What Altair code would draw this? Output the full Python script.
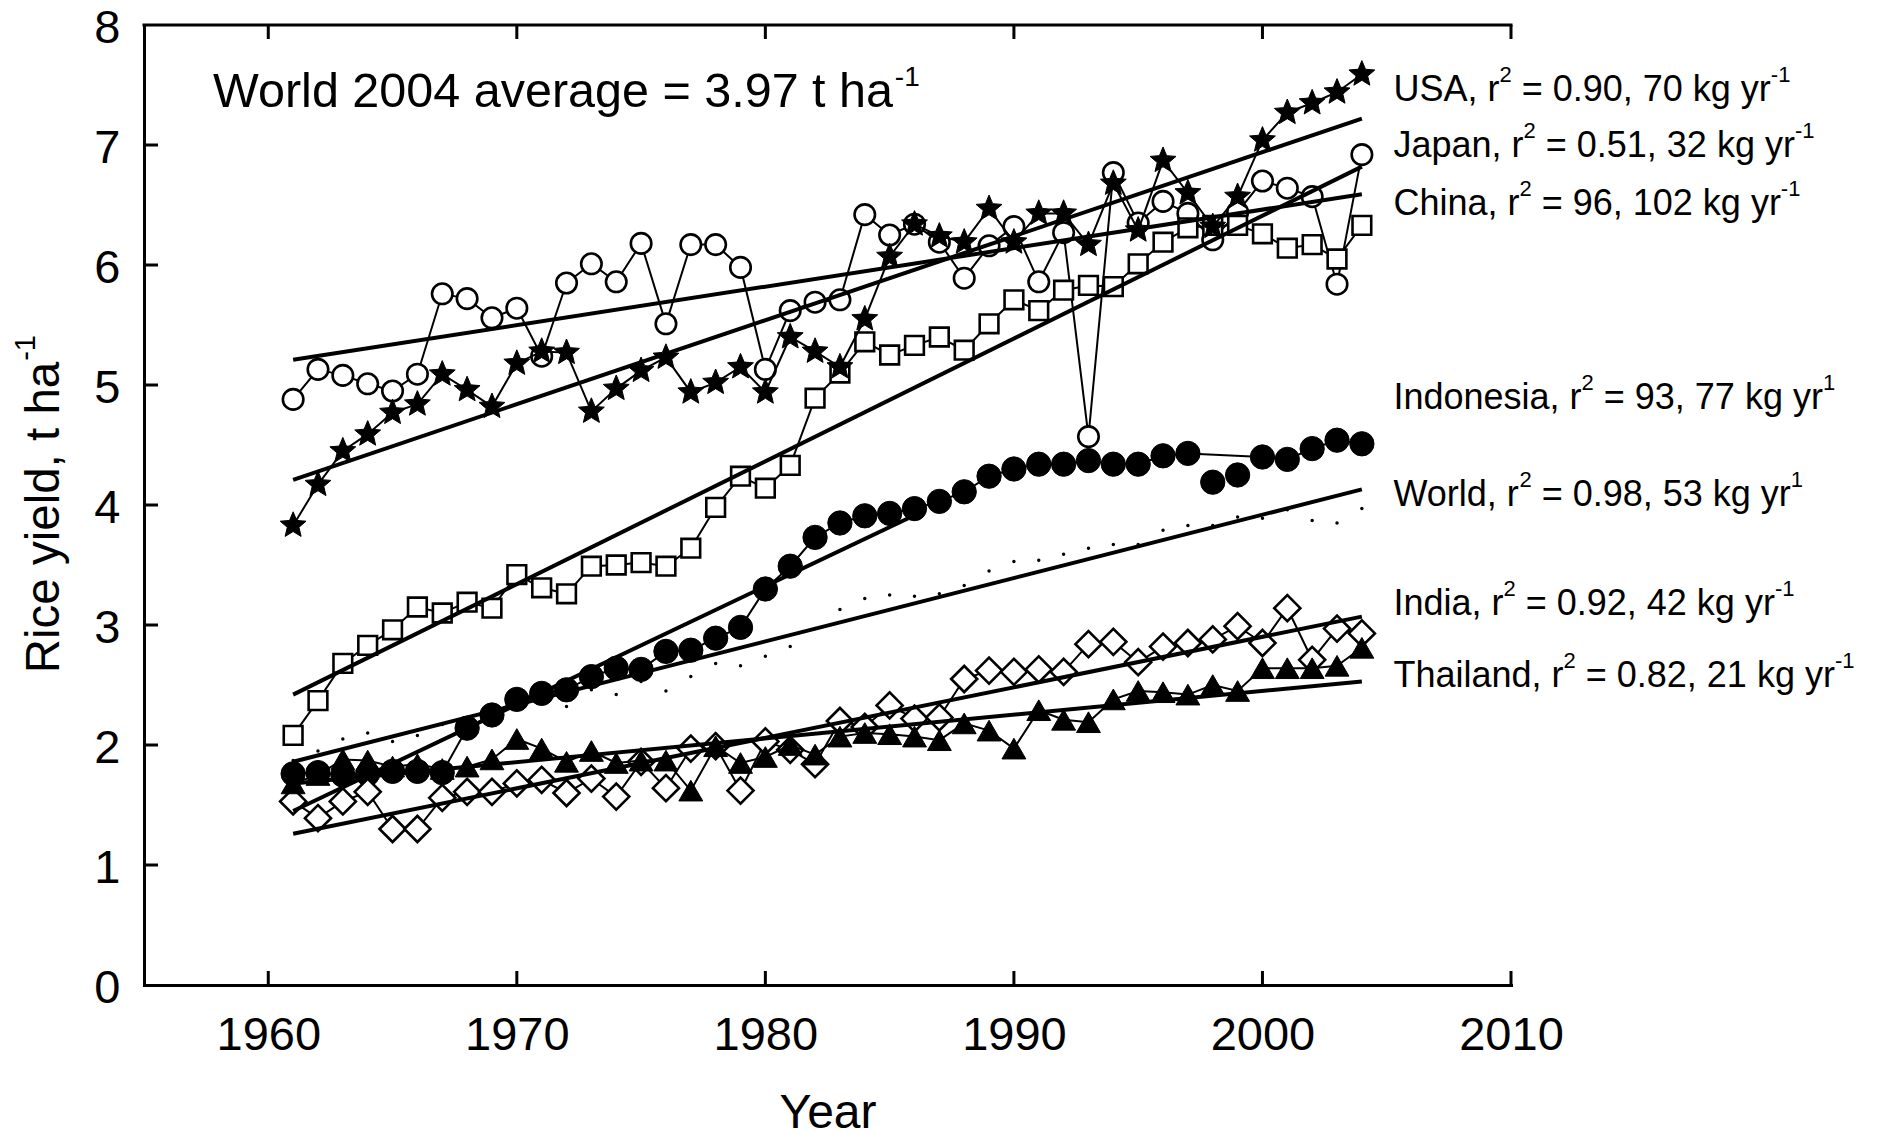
import math
import altair as alt
import pandas as pd

# ---------------- data ----------------
years = list(range(1961, 2005))

japan = [4.88, 5.13, 5.08, 5.01, 4.95, 5.09, 5.76, 5.72, 5.56, 5.64,
         5.24, 5.85, 6.01, 5.86, 6.18, 5.51, 6.17, 6.17, 5.98, 5.13,
         5.62, 5.69, 5.71, 6.42, 6.25, 6.34, 6.19, 5.89, 6.16, 6.32,
         5.86, 6.27, 4.57, 6.77, 6.35, 6.53, 6.43, 6.21, 6.44, 6.70,
         6.64, 6.57, 5.84, 6.92]
usa = [3.83, 4.17, 4.45, 4.59, 4.77, 4.84, 5.09, 4.96, 4.82, 5.18,
       5.28, 5.27, 4.78, 4.97, 5.12, 5.23, 4.94, 5.02, 5.15, 4.94,
       5.40, 5.28, 5.15, 5.55, 6.07, 6.34, 6.24, 6.19, 6.47, 6.19,
       6.43, 6.43, 6.17, 6.68, 6.29, 6.87, 6.60, 6.32, 6.57, 7.04,
       7.27, 7.35, 7.44, 7.59]
china = [2.08, 2.37, 2.68, 2.83, 2.96, 3.15, 3.10, 3.19, 3.14, 3.42,
         3.31, 3.26, 3.49, 3.50, 3.52, 3.49, 3.64, 3.98, 4.24, 4.14,
         4.33, 4.89, 5.10, 5.36, 5.25, 5.33, 5.40, 5.29, 5.51, 5.71,
         5.62, 5.79, 5.83, 5.82, 6.01, 6.19, 6.31, 6.33, 6.33, 6.26,
         6.14, 6.17, 6.05, 6.33]
indonesia = [1.76, 1.77, 1.75, 1.76, 1.78, 1.78, 1.77, 2.14, 2.25, 2.38,
             2.43, 2.46, 2.57, 2.64, 2.63, 2.78, 2.79, 2.89, 2.98, 3.30,
             3.49, 3.73, 3.85, 3.91, 3.93, 3.97, 4.03, 4.11, 4.24, 4.30,
             4.34, 4.34, 4.37, 4.34, 4.34, 4.41, 4.43, 4.19, 4.25, 4.40,
             4.38, 4.47, 4.54, 4.51]
indonesia_unlinked = [1998, 1999]
world = [1.87, 1.95, 2.05, 2.10, 2.03, 2.08, 2.17, 2.22, 2.26, 2.37,
         2.36, 2.32, 2.46, 2.42, 2.53, 2.45, 2.57, 2.68, 2.66, 2.74,
         2.82, 2.97, 3.13, 3.22, 3.25, 3.24, 3.26, 3.33, 3.45, 3.53,
         3.54, 3.59, 3.64, 3.67, 3.67, 3.79, 3.83, 3.83, 3.90, 3.89,
         3.96, 3.87, 3.85, 3.97]
india = [1.53, 1.39, 1.53, 1.61, 1.30, 1.30, 1.56, 1.61, 1.61, 1.68,
         1.71, 1.60, 1.72, 1.57, 1.86, 1.64, 1.97, 1.99, 1.62, 2.03,
         1.96, 1.84, 2.20, 2.15, 2.33, 2.22, 2.23, 2.55, 2.62, 2.61,
         2.63, 2.61, 2.84, 2.86, 2.69, 2.82, 2.85, 2.88, 2.99, 2.85,
         3.14, 2.71, 2.97, 2.93]
thailand = [1.68, 1.75, 1.88, 1.87, 1.82, 1.84, 1.80, 1.82, 1.88, 2.05,
            1.97, 1.86, 1.95, 1.85, 1.87, 1.87, 1.62, 1.99, 1.85, 1.90,
            2.00, 1.92, 2.07, 2.10, 2.09, 2.07, 2.04, 2.18, 2.12, 1.97,
            2.29, 2.21, 2.19, 2.38, 2.45, 2.44, 2.42, 2.50, 2.45, 2.64,
            2.64, 2.64, 2.66, 2.81]

# regression lines (end points)
trend_names = ["USA", "Japan", "China", "Indonesia", "World", "India", "Thailand"]
trend_year0 = [1961, 1961, 1961, 1961, 1961, 1961, 1961]
trend_year1 = [2004, 2004, 2004, 1985.75, 2004, 2004, 2004]
trend_val0 = [4.21, 5.21, 2.42, 1.45, 1.86, 1.26, 1.68]
trend_val1 = [7.22, 6.59, 6.82, 3.89, 4.13, 3.07, 2.53]

# series labels at the right
label_names = ["USA", "Japan", "China", "Indonesia", "World", "India", "Thailand"]
label_stats = ["= 0.90, 70 kg yr", "= 0.51, 32 kg yr", "= 96, 102 kg yr",
               "= 93, 77 kg yr", "= 0.98, 53 kg yr", "= 0.92, 42 kg yr",
               "= 0.82, 21 kg yr"]
label_exp = ["-1", "-1", "-1", "1", "1", "-1", "-1"]
label_values = [7.37, 6.90, 6.42, 4.80, 3.99, 3.08, 2.485]
label_year = 2005.27

world_note = "World 2004 average = 3.97 t ha"
world_note_exp = "-1"
world_note_year = 1957.78
world_note_value = 7.316

y_title = "Rice yield, t ha"
y_title_exp = "-1"
x_title = "Year"

x_ticks = [1960, 1970, 1980, 1990, 2000, 2010]
y_ticks = [0, 1, 2, 3, 4, 5, 6, 7, 8]

# ---------------- layout / style ----------------
FONT = "Liberation Sans"
W, H = 1367, 960
X0, X1 = 1955, 2010
PPY = W / (X1 - X0)

# Arial / Liberation Sans advance widths (1/1000 em)
AW = {" ": 278, ",": 278, ".": 278, "-": 333, "=": 584,
      "0": 556, "1": 556, "2": 556, "3": 556, "4": 556, "5": 556, "6": 556,
      "7": 556, "8": 556, "9": 556,
      "A": 667, "C": 722, "I": 278, "J": 500, "S": 667, "T": 611, "U": 722,
      "W": 944, "R": 722, "a": 556, "c": 500, "d": 556, "e": 556, "g": 556,
      "h": 556, "i": 222, "k": 500, "l": 222, "n": 556, "o": 556, "p": 556,
      "r": 333, "s": 500, "t": 278, "v": 500, "y": 500}


def tw(s, size):
    return sum(AW.get(c, 556) for c in s) * size / 1000.0


XS = alt.Scale(domain=[X0, X1], nice=False, zero=False)
YS = alt.Scale(domain=[0, 8], nice=False, zero=True)

XAX = alt.Axis(values=x_ticks, format="d", title=x_title, grid=False,
               ticks=False, tickSize=0, domain=True, domainColor="black",
               domainWidth=3, domainCap="square",
               labelFont=FONT, labelFontSize=47, labelColor="black",
               labelPadding=64, labelBaseline="alphabetic", labelFlush=False,
               labelOverlap=False, labelBound=False,
               titleFont=FONT, titleFontSize=48, titleFontWeight="normal",
               titleColor="black", titleBaseline="alphabetic",
               titleAlign="center", titleX=W / 2, titleY=142)
YAX = alt.Axis(values=y_ticks, format="d", title=None, grid=False,
               ticks=False, tickSize=0, domain=True, domainColor="black",
               domainWidth=3, domainCap="square",
               labelFont=FONT, labelFontSize=47, labelColor="black",
               labelPadding=24, labelBaseline="alphabetic", labelOffset=17.5,
               labelFlush=False, labelOverlap=False, labelBound=False)


def X(field="year"):
    return alt.X(f"{field}:Q", scale=XS, axis=XAX)


def Y(field="value"):
    return alt.Y(f"{field}:Q", scale=YS, axis=YAX)


def series_df(vals, skip=()):
    return pd.DataFrame({"year": [y for y in years if y not in skip],
                         "value": [v for y, v in zip(years, vals) if y not in skip]})


# star symbol path
pts = []
for k in range(10):
    ang = math.radians(-90 + 36 * k)
    r = 1.0 if k % 2 == 0 else 0.45
    pts.append((r * math.cos(ang), r * math.sin(ang)))
STAR = "M" + " L".join(f"{x:.3f},{y:.3f}" for x, y in pts) + " Z"

layers = []


def add_series(vals, shape, size, fill, sw, skip_line=()):
    layers.append(alt.Chart(series_df(vals, skip_line)).mark_line(
        color="black", strokeWidth=2).encode(x=X(), y=Y()))
    layers.append(alt.Chart(series_df(vals)).mark_point(
        shape=shape, size=size, filled=True, fill=fill, stroke="black",
        strokeWidth=sw, opacity=1, fillOpacity=1).encode(x=X(), y=Y()))


# world yearly averages as small dots
layers.append(alt.Chart(series_df(world)).mark_circle(
    size=12, color="black", opacity=1).encode(x=X(), y=Y()))

add_series(japan, "circle", 420, "white", 2.6)
add_series(china, "square", 350, "white", 2.6)
add_series(usa, STAR, 740, "black", 1)
add_series(indonesia, "circle", 590, "black", 1, skip_line=indonesia_unlinked)
add_series(india, "diamond", 680, "white", 2.6)
add_series(thailand, "triangle-up", 570, "black", 1)

# regression lines
trend_df = pd.DataFrame({"name": trend_names, "year": trend_year0,
                         "year2": trend_year1, "value": trend_val0,
                         "value2": trend_val1})
layers.append(alt.Chart(trend_df).mark_rule(
    color="black", strokeWidth=4, strokeCap="butt").encode(
    x=X(), x2="year2:Q", y=Y(), y2="value2:Q"))

# frame: top line and inward ticks
layers.append(alt.Chart(pd.DataFrame({"k": [0]})).mark_rule(
    color="black", strokeWidth=3, strokeCap="square").encode(
    x=alt.value(0), x2=alt.value(W), y=alt.value(0)))
xt = pd.DataFrame({"year": x_ticks})
layers.append(alt.Chart(xt).mark_rule(color="black", strokeWidth=3).encode(
    x=X(), y=alt.value(0), y2=alt.value(14)))
layers.append(alt.Chart(xt).mark_rule(color="black", strokeWidth=3).encode(
    x=X(), y=alt.value(H - 14), y2=alt.value(H)))
yt = pd.DataFrame({"value": y_ticks[1:-1]})
layers.append(alt.Chart(yt).mark_rule(color="black", strokeWidth=3).encode(
    y=Y(), x=alt.value(0), x2=alt.value(14)))

# series labels (main text + superscripts)
MAIN, SUP, RAISE = 36, 22, 19
p1 = [n + ", r" for n in label_names]
x_sup1 = [label_year + tw(s, MAIN) / PPY for s in p1]
x_p2 = [x + (tw("2", SUP) + tw(" ", MAIN)) / PPY for x in x_sup1]
x_sup2 = [x + tw(s, MAIN) / PPY for x, s in zip(x_p2, label_stats)]


def text_layer(xs, ys, texts, size, dy=0):
    df = pd.DataFrame({"year": xs, "value": ys, "t": texts})
    return alt.Chart(df).mark_text(
        font=FONT, fontSize=size, color="black", align="left",
        baseline="alphabetic", dy=dy).encode(x=X(), y=Y(), text="t:N")


layers.append(text_layer([label_year] * len(p1), label_values, p1, MAIN))
layers.append(text_layer(x_sup1, label_values, ["2"] * len(p1), SUP, -RAISE))
layers.append(text_layer(x_p2, label_values, label_stats, MAIN))
layers.append(text_layer(x_sup2, label_values, label_exp, SUP, -RAISE))

# world note
WN = 48.5
layers.append(text_layer([world_note_year], [world_note_value], [world_note], WN))
layers.append(text_layer([world_note_year + (tw(world_note, WN) + 1) / PPY],
                         [world_note_value], [world_note_exp], 28, -21))

# y-axis title (rotated, with superscript)
YT = 47.5
layers.append(alt.Chart(pd.DataFrame({"t": [y_title]})).mark_text(
    font=FONT, fontSize=YT, color="black", align="left", baseline="alphabetic",
    angle=270).encode(x=alt.value(-84.7), y=alt.value(648.3), text="t:N"))
layers.append(alt.Chart(pd.DataFrame({"t": [y_title_exp]})).mark_text(
    font=FONT, fontSize=29, color="black", align="left", baseline="alphabetic",
    angle=270).encode(x=alt.value(-108.7),
                      y=alt.value(648.3 - tw(y_title, YT) - 1), text="t:N"))

chart = alt.layer(*layers).properties(
    width=W, height=H,
    autosize=alt.AutoSizeParams(type="none"),
    padding={"left": 136, "top": 17, "right": 358, "bottom": 146},
    background="white",
).configure_view(stroke=None)

chart.save("out.html", embed_options={"renderer": "svg", "actions": False})
